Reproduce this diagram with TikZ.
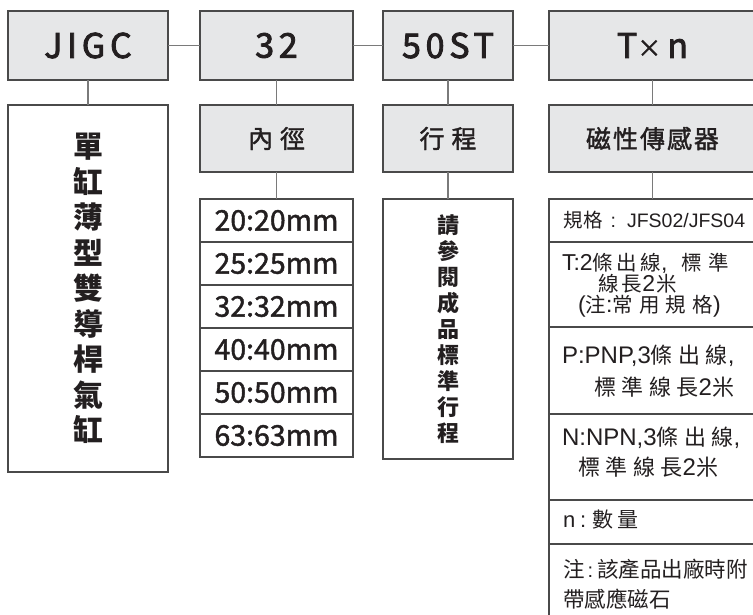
\documentclass[tikz,border=0pt]{standalone}
\usepackage{fontspec}
\setmainfont{Noto Sans CJK TC}
\newfontfamily\cjk{Noto Sans CJK TC}
\newfontfamily\lat{Liberation Sans}
\definecolor{boxg}{HTML}{E6E7E8}
\definecolor{bordc}{HTML}{4A4A4A}
\definecolor{linec}{HTML}{7A7A7A}
\definecolor{txt}{HTML}{231F20}
\newcommand\LT[2]{{\lat\fontsize{#1}{#1}\selectfont #2}}
\newcommand\CJ[3]{{\cjk\fontsize{#1}{#1}\selectfont\addfontfeatures{LetterSpace=#2}#3}}
\newcommand\CM[3]{{\cjk\fontsize{#1}{#1}\selectfont\addfontfeatures{LetterSpace=#2,FakeBold=1.5}#3}}
\newcommand\HD[1]{{\cjk\fontsize{34}{40}\selectfont\addfontfeatures{LetterSpace=14,FakeBold=2.5}#1}}
\tikzset{
  gbox/.style={draw=bordc, fill=boxg, line width=1.1pt, inner sep=0pt, outer sep=0pt, text=txt},
  wbox/.style={draw=bordc, fill=white, line width=1.1pt, inner sep=0pt, outer sep=0pt, text=txt},
  link/.style={draw=linec, line width=1.3pt},
  rtext/.style={anchor=base west, inner sep=0pt, outer sep=0pt, text=txt},
}
\begin{document}
\begin{tikzpicture}[x=1pt,y=-1pt]
\useasboundingbox (0,0) rectangle (753,614);
\clip (0,0) rectangle (753,614);
\fill[white] (0,0) rectangle (753,614);

% header row
\node[gbox, minimum width=160pt, minimum height=69pt] (jigc) at (88,45.5) {\HD{JIGC}};
\node[gbox, minimum width=153pt, minimum height=69pt] (bore) at (276.5,45.5) {\HD{32}};
\node[gbox, minimum width=130pt, minimum height=69pt] (stroke) at (448,45.5) {\HD{50ST}};
\node[gbox, minimum width=207pt, minimum height=69pt] (sens) at (652.5,45.5)
  {\HD{T}{\cjk\fontsize{24}{30}\selectfont\addfontfeatures{FakeBold=1.5}\raisebox{1pt}{×}}\hspace{6pt}\HD{n}};

% second row
\node[wbox, minimum width=160pt, minimum height=367pt, align=center,
      font=\cjk\bfseries\fontsize{30}{35.5}\selectfont] (desc) at (88,288.5)
  {單\\缸\\薄\\型\\雙\\導\\桿\\氣\\缸};
\node[gbox, minimum width=153pt, minimum height=67pt] (boret) at (276.5,138.5)
  {\CM{25}{28}{內徑}};
\node[gbox, minimum width=130pt, minimum height=67pt] (stroket) at (448,138.5)
  {\CM{25}{28}{行程}};
\node[gbox, minimum width=207pt, minimum height=67pt] (senst) at (652.5,138.5)
  {\CM{25}{8}{磁性傳感器}};

% bore table
\foreach \i/\t in {1/20:20mm,2/25:25mm,3/32:32mm,4/40:40mm,5/50:50mm,6/63:63mm}{
  \node[wbox, minimum width=153pt, minimum height=43pt] (mm\i) at (276.5,{199+21.5+43*(\i-1)})
    {\CM{28.5}{0}{\t}};
}

% stroke note
\node[wbox, minimum width=130pt, minimum height=260pt, align=center,
      font=\cjk\bfseries\fontsize{22}{26}\selectfont] (stnote) at (448,329)
  {請\\參\\閱\\成\\品\\標\\準\\行\\程};

% sensor table
\node[wbox, minimum width=207pt, minimum height=43pt] (r1) at (652.5,220.5) {};
\node[wbox, minimum width=207pt, minimum height=85pt] (r2) at (652.5,284.5) {};
\node[wbox, minimum width=207pt, minimum height=87pt] (r3) at (652.5,370.5) {};
\node[wbox, minimum width=207pt, minimum height=86pt] (r4) at (652.5,457) {};
\node[wbox, minimum width=207pt, minimum height=44pt] (r5) at (652.5,522) {};
\node[wbox, minimum width=207pt, minimum height=90pt] (r6) at (652.5,589) {};

\node[rtext] (t1) at (563,227) {\CJ{19.5}{3}{規格}\hspace{8pt}\LT{19.5}{:}\hspace{11pt}\LT{19.5}{JFS02/JFS04}};
\node[rtext] (t2a) at (562,270) {\LT{23}{T:2}\CJ{20.5}{17}{條出線}\LT{23}{,}\hspace{14pt}\CJ{20.5}{32}{標準}};
\node[rtext] (t2b) at (598,291) {\CJ{20.5}{17}{線長}\LT{23}{2}\hspace{1pt}\CJ{20.5}{0}{米}};
\node[rtext] (t2c) at (578,312) {\LT{23}{(}\CJ{20.5}{30}{注}\LT{23}{:}\CJ{20.5}{30}{常用規格}\LT{23}{)}};
\node[rtext] (t3a) at (562,363) {\LT{24}{P:PNP,3}\CJ{22}{25}{條出線}\LT{24}{,}};
\node[rtext] (t3b) at (594,395) {\CJ{22}{25}{標準線長}\LT{24}{2}\hspace{1pt}\CJ{22}{0}{米}};
\node[rtext] (t4a) at (562,445) {\LT{24}{N:NPN,3}\CJ{22}{25}{條出線}\LT{24}{,}};
\node[rtext] (t4b) at (578,475) {\CJ{22}{25}{標準線長}\LT{24}{2}\hspace{1pt}\CJ{22}{0}{米}};
\node[rtext] (t5) at (563,527) {\LT{22}{n}\hspace{5pt}\LT{22}{:}\hspace{6pt}\CJ{21}{22}{數量}};
\node[rtext] (t6a) at (563,577) {\CJ{21.5}{0}{注}\hspace{3pt}\LT{20}{:}\hspace{4pt}\CJ{21.5}{0}{該產品出廠時附}};
\node[rtext] (t6b) at (563,607) {\CJ{21.5}{0}{帶感應磁石}};

% connectors
\draw[link] (jigc.east) -- (bore.west);
\draw[link] (bore.east) -- (stroke.west);
\draw[link] (stroke.east) -- (sens.west);
\draw[link] (jigc.south) -- (desc.north);
\draw[link] (bore.south) -- (boret.north);
\draw[link] (boret.south) -- (mm1.north);
\draw[link] (stroke.south) -- (stroket.north);
\draw[link] (stroket.south) -- (stnote.north);
\draw[link] (sens.south) -- (senst.north);
\draw[link] (senst.south) -- (r1.north);
\end{tikzpicture}
\end{document}
